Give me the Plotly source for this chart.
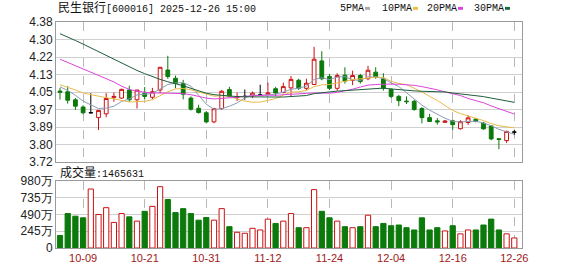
import plotly.graph_objects as go

# ---------------- data ----------------
dates = [
    "2025-09-26", "2025-09-29", "2025-09-30", "2025-10-09", "2025-10-10",
    "2025-10-13", "2025-10-14", "2025-10-15", "2025-10-16", "2025-10-17",
    "2025-10-20", "2025-10-21", "2025-10-22", "2025-10-23", "2025-10-24",
    "2025-10-27", "2025-10-28", "2025-10-29", "2025-10-30", "2025-10-31",
    "2025-11-03", "2025-11-04", "2025-11-05", "2025-11-06", "2025-11-07",
    "2025-11-10", "2025-11-11", "2025-11-12", "2025-11-13", "2025-11-14",
    "2025-11-17", "2025-11-18", "2025-11-19", "2025-11-20", "2025-11-21",
    "2025-11-24", "2025-11-25", "2025-11-26", "2025-11-27", "2025-11-28",
    "2025-12-01", "2025-12-02", "2025-12-03", "2025-12-04", "2025-12-05",
    "2025-12-08", "2025-12-09", "2025-12-10", "2025-12-11", "2025-12-12",
    "2025-12-15", "2025-12-16", "2025-12-17", "2025-12-18", "2025-12-19",
    "2025-12-22", "2025-12-23", "2025-12-24", "2025-12-25", "2025-12-26",
]

open_ = [4.055, 4.052, 4.014, 3.980, 3.953, 3.930, 3.948, 4.024, 4.022, 4.060,
         4.014, 4.045, 4.026, 4.060, 4.154, 4.115, 4.090, 4.022, 3.974, 3.953,
         3.910, 3.973, 4.062, 4.024, 4.030, 4.032, 4.037, 4.040, 4.066, 4.048,
         4.070, 4.106, 4.068, 4.086, 4.197, 4.124, 4.068, 4.130, 4.106, 4.128,
         4.113, 4.144, 4.113, 4.063, 4.030, 4.008, 4.007, 3.973, 3.930, 3.915,
         3.908, 3.915, 3.878, 3.907, 3.923, 3.904, 3.891, 3.831, 3.822, 3.862]
high = [4.070, 4.078, 4.022, 3.988, 4.045, 3.966, 4.045, 4.048, 4.066, 4.080,
        4.060, 4.074, 4.070, 4.168, 4.221, 4.128, 4.108, 4.030, 3.991, 3.961,
        3.976, 4.060, 4.075, 4.048, 4.062, 4.053, 4.085, 4.095, 4.075, 4.095,
        4.126, 4.113, 4.113, 4.263, 4.243, 4.136, 4.139, 4.167, 4.151, 4.136,
        4.174, 4.167, 4.139, 4.068, 4.037, 4.030, 4.014, 3.979, 3.948, 3.928,
        3.918, 3.920, 3.918, 3.940, 3.928, 3.910, 3.893, 3.832, 3.869, 3.873]
low = [4.015, 3.996, 3.966, 3.946, 3.950, 3.872, 3.932, 4.005, 4.019, 4.005,
       3.973, 4.017, 4.017, 4.045, 4.113, 4.068, 4.016, 3.963, 3.949, 3.903,
       3.904, 3.966, 4.026, 4.008, 4.014, 4.022, 4.034, 4.038, 4.030, 4.044,
       4.030, 4.060, 4.060, 4.084, 4.106, 4.060, 4.057, 4.090, 4.083, 4.090,
       4.106, 4.113, 4.057, 4.022, 3.984, 3.994, 3.963, 3.903, 3.911, 3.897,
       3.905, 3.872, 3.874, 3.896, 3.908, 3.874, 3.824, 3.782, 3.811, 3.848]
close = [4.050, 4.012, 3.984, 3.953, 3.953, 3.964, 4.020, 4.030, 4.063, 4.014,
         4.060, 4.030, 4.052, 4.167, 4.123, 4.091, 4.040, 3.970, 3.954, 3.910,
         3.972, 4.054, 4.030, 4.028, 4.030, 4.045, 4.037, 4.046, 4.046, 4.076,
         4.110, 4.068, 4.092, 4.205, 4.113, 4.068, 4.128, 4.102, 4.128, 4.100,
         4.153, 4.121, 4.068, 4.030, 4.010, 4.005, 3.968, 3.930, 3.912, 3.910,
         3.914, 3.897, 3.911, 3.929, 3.912, 3.877, 3.830, 3.827, 3.865, 3.862]

ma5 = [4.075, 4.058, 4.035, 4.008, 3.990, 3.973, 3.975, 3.984, 4.006, 4.018,
       4.037, 4.039, 4.044, 4.065, 4.086, 4.093, 4.095, 4.078, 4.036, 3.993,
       3.969, 3.972, 3.984, 3.999, 4.023, 4.037, 4.034, 4.037, 4.041, 4.050,
       4.063, 4.069, 4.078, 4.110, 4.118, 4.109, 4.121, 4.123, 4.108, 4.105,
       4.122, 4.121, 4.114, 4.094, 4.076, 4.047, 4.016, 3.989, 3.965, 3.945,
       3.927, 3.913, 3.909, 3.912, 3.913, 3.905, 3.892, 3.875, 3.862, 3.852]
ma10 = [4.085, 4.074, 4.060, 4.046, 4.038, 4.030, 4.024, 4.018, 4.012, 4.004,
        4.005, 4.007, 4.014, 4.035, 4.052, 4.065, 4.067, 4.061, 4.050, 4.040,
        4.031, 4.033, 4.031, 4.017, 4.008, 4.003, 4.003, 4.011, 4.020, 4.036,
        4.050, 4.052, 4.058, 4.076, 4.084, 4.086, 4.095, 4.101, 4.109, 4.111,
        4.116, 4.121, 4.119, 4.101, 4.091, 4.085, 4.069, 4.051, 4.030, 4.011,
        3.987, 3.964, 3.949, 3.939, 3.929, 3.916, 3.902, 3.892, 3.887, 3.882]
ma20 = [4.205, 4.190, 4.175, 4.160, 4.145, 4.130, 4.115, 4.098, 4.078, 4.063,
        4.054, 4.049, 4.046, 4.046, 4.046, 4.045, 4.043, 4.038, 4.030, 4.022,
        4.018, 4.020, 4.023, 4.026, 4.030, 4.034, 4.035, 4.036, 4.035, 4.038,
        4.041, 4.042, 4.044, 4.046, 4.046, 4.045, 4.049, 4.056, 4.064, 4.074,
        4.083, 4.086, 4.088, 4.088, 4.087, 4.085, 4.082, 4.076, 4.069, 4.061,
        4.051, 4.043, 4.034, 4.020, 4.010, 4.000, 3.985, 3.972, 3.958, 3.947]
ma30 = [4.325, 4.310, 4.293, 4.276, 4.258, 4.240, 4.222, 4.204, 4.186, 4.168,
        4.152, 4.137, 4.122, 4.110, 4.099, 4.090, 4.080, 4.068, 4.055, 4.045,
        4.038, 4.034, 4.031, 4.029, 4.028, 4.027, 4.027, 4.027, 4.027, 4.027,
        4.029, 4.031, 4.034, 4.043, 4.048, 4.051, 4.055, 4.057, 4.060, 4.063,
        4.066, 4.069, 4.069, 4.065, 4.061, 4.058, 4.056, 4.054, 4.053, 4.053,
        4.051, 4.046, 4.042, 4.038, 4.034, 4.029, 4.022, 4.015, 4.009, 4.002]

# volume in units of 万
volume = [182, 502, 464, 440, 860, 488, 588, 373, 502, 454,
          392, 535, 607, 894, 707, 516, 574, 502, 406, 445,
          406, 574, 311, 229, 215, 287, 263, 421, 358, 392,
          502, 296, 296, 851, 535, 440, 392, 311, 296, 311,
          478, 311, 358, 325, 335, 296, 263, 440, 263, 296,
          249, 325, 206, 263, 263, 335, 421, 263, 206, 146.5631]

price_tick_labels = ["3.72", "3.80", "3.89", "3.97", "4.05", "4.13", "4.22", "4.30", "4.38"]
price_min, price_max = 3.72, 4.38
vol_tick_vals = [0, 245, 490, 735, 980]
vol_tick_labels = ["0", "245万", "490万", "735万", "980万"]
date_tick_vals = ["2025-10-09", "2025-10-21", "2025-10-31", "2025-11-12",
                  "2025-11-24", "2025-12-04", "2025-12-16", "2025-12-26"]
date_tick_labels = ["10-09", "10-21", "10-31", "11-12", "11-24", "12-04", "12-16", "12-26"]
ma_names = ["5PMA", "10PMA", "20PMA", "30PMA"]

stock_title = "民生银行"
stock_code = "[600016]"
stamp = "2025-12-26 15:00"

# ---------------- styles ----------------
RED = "#cc1010"
GREEN = "#0b7a0b"
C_MA5 = "#8a9cb4"
C_MA10 = "#e8bb4a"
C_MA20 = "#dd44dd"
C_MA30 = "#1d5e3c"
LEG_COLORS = ["#a8a8a8", "#eec040", "#dd44dd", "#1d6a3c"]
BORDER = "#9a9a9a"
GRID = "#d0d0d0"
VGRID = "#b8b8b8"
MONO = "Liberation Mono, Noto Sans CJK SC"
SANS = "Liberation Sans, Arial, sans-serif"

n = len(dates)
up = [i for i in range(n) if close[i] > open_[i]]
dn = [i for i in range(n) if close[i] < open_[i]]
fl = [i for i in range(n) if close[i] == open_[i]]


def sub(arr, idx):
    return [arr[i] for i in idx]


fig = go.Figure()


def add_candles(idx, inc_line, inc_fill, dec_line, dec_fill):
    fig.add_trace(go.Candlestick(
        x=sub(dates, idx), open=sub(open_, idx), high=sub(high, idx),
        low=sub(low, idx), close=sub(close, idx),
        increasing=dict(line=dict(color=inc_line, width=1), fillcolor=inc_fill),
        decreasing=dict(line=dict(color=dec_line, width=1), fillcolor=dec_fill),
        whiskerwidth=0, showlegend=False, hoverinfo="skip",
        xaxis="x", yaxis="y",
    ))


add_candles(up, RED, "white", RED, "white")
add_candles(dn, GREEN, GREEN, GREEN, GREEN)
add_candles(fl, "black", "black", "black", "black")

for vals, col, name in [(ma5, C_MA5, ma_names[0]), (ma10, C_MA10, ma_names[1]),
                        (ma20, C_MA20, ma_names[2]), (ma30, C_MA30, ma_names[3])]:
    fig.add_trace(go.Scatter(x=dates, y=vals, mode="lines", name=name,
                             line=dict(color=col, width=1),
                             showlegend=False, hoverinfo="skip",
                             xaxis="x", yaxis="y"))

vol_fill = ["white" if close[i] >= open_[i] else GREEN for i in range(n)]
vol_line = [RED if close[i] >= open_[i] else GREEN for i in range(n)]
fig.add_trace(go.Bar(x=dates, y=volume, width=0.68,
                     marker=dict(color=vol_fill, line=dict(color=vol_line, width=1)),
                     showlegend=False, hoverinfo="skip",
                     xaxis="x2", yaxis="y2"))

W, H = 578, 276
ML, MR, MT, MB = 56, 56, 22, 22
PH = H - MT - MB
PW = W - ML - MR
price_bottom_px = 166
vol_top_px = 185


def py(px):  # pixel y -> paper y
    return (H - MB - px) / PH


def px_x(px):  # pixel x -> paper x
    return (px - ML) / PW


xcommon = dict(
    type="category", categoryorder="array", categoryarray=dates,
    range=[-0.52, n - 0.0], tickvals=date_tick_vals, ticktext=date_tick_labels,
    showgrid=True, gridcolor=VGRID, griddash="dash", gridwidth=1,
    showline=True, mirror=True, linecolor=BORDER, linewidth=1,
    ticks="", zeroline=False, fixedrange=True,
)

price_ticks = [price_min + k * (price_max - price_min) / 8 for k in range(9)]

fig.update_layout(
    width=W, height=H,
    margin=dict(l=ML, r=MR, t=MT, b=MB, pad=0),
    paper_bgcolor="white", plot_bgcolor="white",
    hovermode=False, barmode="overlay",
    xaxis=dict(xcommon, anchor="y", domain=[0, 1], showticklabels=False,
               rangeslider=dict(visible=False)),
    yaxis=dict(domain=[py(price_bottom_px), 1], range=[price_min, price_max],
               tickvals=price_ticks, ticktext=price_tick_labels,
               showgrid=True, gridcolor=GRID, gridwidth=1,
               showline=True, mirror=True, linecolor=BORDER, linewidth=1,
               ticks="", zeroline=False,
               tickfont=dict(family=SANS, size=12, color="#222")),
    xaxis2=dict(xcommon, anchor="y2", domain=[0, 1], showticklabels=True,
                tickfont=dict(family=SANS, size=11, color="#a01818")),
    yaxis2=dict(domain=[0, py(vol_top_px)], range=[0, 980],
                tickvals=vol_tick_vals, ticktext=vol_tick_labels,
                showgrid=True, gridcolor=GRID, gridwidth=1,
                showline=True, mirror=True, linecolor=BORDER, linewidth=1,
                ticks="", zeroline=False,
                tickfont=dict(family=SANS, size=12, color="#222")),
)

title_text = (f"<span style='font-size:12px'>{stock_title}</span>"
              f"{stock_code} {stamp}")
fig.add_annotation(text=title_text, xref="paper", yref="paper",
                   x=px_x(56), y=py(8), xanchor="left", yanchor="middle",
                   showarrow=False, font=dict(family=MONO, size=10, color="#111"))

# legend: name text followed by a small coloured dash
legend_text_left = [338, 380, 425, 472]
for name, col, lx in zip(ma_names, LEG_COLORS, legend_text_left):
    fig.add_annotation(text=name, xref="paper", yref="paper",
                       x=px_x(lx), y=py(8), xanchor="left", yanchor="middle",
                       showarrow=False, font=dict(family=MONO, size=10, color="#111"))
    dx0 = lx + 6 * len(name) + 3
    fig.add_shape(type="rect", xref="paper", yref="paper",
                  x0=px_x(dx0), x1=px_x(dx0 + 5), y0=py(9.5), y1=py(6.5),
                  line=dict(width=0), fillcolor=col)

vol_label = f"<span style='font-size:12px'>成交量</span>:{round(volume[-1] * 10000)}"
fig.add_annotation(text=vol_label, xref="paper", yref="paper",
                   x=px_x(58), y=py(176.5), xanchor="left", yanchor="middle",
                   showarrow=False, font=dict(family=MONO, size=10, color="#111"))

fig.write_html("out.html")
